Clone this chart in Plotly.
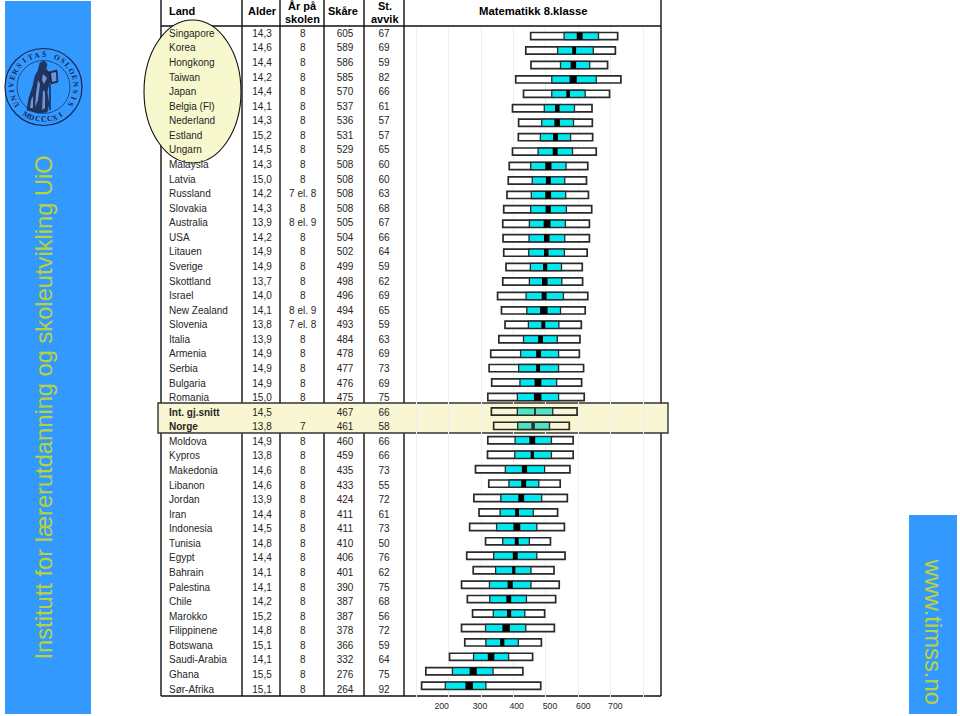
import math
import plotly.graph_objects as go

lands = ["Singapore","Korea","Hongkong","Taiwan","Japan","Belgia (Fl)","Nederland","Estland","Ungarn","Malaysia","Latvia","Russland","Slovakia","Australia","USA","Litauen","Sverige","Skottland","Israel","New Zealand","Slovenia","Italia","Armenia","Serbia","Bulgaria","Romania","Int. gj.snitt","Norge","Moldova","Kypros","Makedonia","Libanon","Jordan","Iran","Indonesia","Tunisia","Egypt","Bahrain","Palestina","Chile","Marokko","Filippinene","Botswana","Saudi-Arabia","Ghana","Sør-Afrika"]
alder = ["14,3","14,6","14,4","14,2","14,4","14,1","14,3","15,2","14,5","14,3","15,0","14,2","14,3","13,9","14,2","14,9","14,9","13,7","14,0","14,1","13,8","13,9","14,9","14,9","14,9","15,0","14,5","13,8","14,9","13,8","14,6","14,6","13,9","14,4","14,5","14,8","14,4","14,1","14,1","14,2","15,2","14,8","15,1","14,1","15,5","15,1"]
aar = ["8","8","8","8","8","8","8","8","8","8","8","7 el. 8","8","8 el. 9","8","8","8","8","8","8 el. 9","7 el. 8","8","8","8","8","8","","7","8","8","8","8","8","8","8","8","8","8","8","8","8","8","8","8","8","8"]
skaare = [605,589,586,585,570,537,536,531,529,508,508,508,508,505,504,502,499,498,496,494,493,484,478,477,476,475,467,461,460,459,435,433,424,411,411,410,406,401,390,387,387,378,366,332,276,264]
avvik = [67,69,59,82,66,61,57,57,65,60,60,63,68,67,66,64,59,62,69,65,59,63,69,73,69,75,66,58,66,66,73,55,72,61,73,50,76,62,75,68,56,72,59,64,75,92]

p5 = [453,438,454,407,431,397,416,415,397,387,384,380,370,367,368,370,377,367,351,363,374,355,330,325,333,321,332,339,321,320,283,324,278,294,265,314,256,276,240,258,274,240,250,203,130,117]
p25 = [556,536,545,518,518,495,487,483,476,453,458,455,453,449,448,447,452,449,439,441,446,431,422,416,420,412,412,413,405,404,375,386,361,359,348,367,339,345,326,327,338,314,315,277,212,190]
ci_lo = [595,581,576,573,563,528,526,522,521,498,500,498,499,493,494,494,491,488,487,482,486,476,470,470,465,463,465,455,449,453,426,424,415,405,400,404,398,396,382,378,380,366,359,321,265,252]
ci_hi = [613,593,593,595,574,542,543,537,536,517,515,516,515,514,511,508,504,505,502,505,498,491,485,482,486,486,467,466,467,463,442,439,433,417,421,416,413,406,398,393,393,389,372,341,287,275]
p75 = [662,646,635,655,621,588,585,576,582,562,558,561,563,560,558,557,548,549,554,545,540,535,539,539,533,539,521,511,517,517,496,478,487,461,472,449,472,454,454,440,435,438,415,385,337,315]
p95 = [721,714,690,731,696,642,643,644,655,629,625,631,641,634,634,627,612,613,629,621,609,605,603,616,610,618,596,572,584,584,574,544,566,536,557,514,559,525,541,530,496,526,486,459,429,484]

grid_vals = [100,200,300,400,500,600,700,800]
tick_labels = ["200","300","400","500","600","700"]
tick_pos = [441.7,480,516.7,550,583.3,615.3]

W, H = 960, 716
highlight = {"Int. gj.snitt", "Norge"}
NAVY = "#18264F"
BLUE = "#3399FF"
LIME = "#B9D23A"
INK = "#262626"

def px(x): return x / W
def py(y): return 1 - y / H

T, B = 27, 697
L, R = 161, 661
K = 0.3246
def score(xp): return 605 + (xp - 580) / K
def paper_path(points, close=True):
    s = "M" + " L".join(f"{px(a):.5f},{py(b):.5f}" for a, b in points)
    return s + (" Z" if close else "")

white = ["#F8F5D2" if n in highlight else "#FFFFFF" for n in lands]
cyan = ["#4FE3C4" if n in highlight else "#00E8F0" for n in lands]
black = ["#333326" if n in highlight else "#000000" for n in lands]
edge = "#2A2A2A"

fig = go.Figure()
BW = 0.5
fig.add_bar(y=lands, x=[b - a for a, b in zip(p5, p95)], base=p5, orientation="h", width=BW,
            marker=dict(color=white, line=dict(color=edge, width=1.7)), xaxis="x", yaxis="y", hoverinfo="skip")
fig.add_bar(y=lands, x=[b - a for a, b in zip(p25, p75)], base=p25, orientation="h", width=BW,
            marker=dict(color=cyan, line=dict(color=edge, width=1.3)), xaxis="x", yaxis="y", hoverinfo="skip")
fig.add_bar(y=lands, x=[b - a for a, b in zip(ci_lo, ci_hi)], base=ci_lo, orientation="h", width=BW,
            marker=dict(color=black, line=dict(width=0)), xaxis="x", yaxis="y", hoverinfo="skip")

cols = [
    (169, "middle right", [f"<b>{n}</b>" if n in highlight else n for n in lands]),
    (262, "middle center", alder),
    (302.7, "middle center", aar),
    (345, "middle center", [str(v) for v in skaare]),
    (384, "middle center", [str(v) for v in avvik]),
]
for xp, pos, txt in cols:
    fig.add_scatter(x=[xp] * len(lands), y=lands, text=txt, mode="text", textposition=pos,
                    textfont=dict(family="Liberation Sans", size=10, color=INK), cliponaxis=False,
                    xaxis="x2", yaxis="y2", hoverinfo="skip", showlegend=False)

shapes = []
def rect(x0, y0, x1, y1, fill, line=None, lw=0, layer="below"):
    shapes.append(dict(type="rect", xref="paper", yref="paper", x0=px(x0), x1=px(x1), y0=py(y0), y1=py(y1),
                       fillcolor=fill, line=dict(color=line or fill, width=lw), layer=layer))
def seg(x0, y0, x1, y1, w=1.4, c="#111111"):
    shapes.append(dict(type="line", xref="paper", yref="paper", x0=px(x0), x1=px(x1), y0=py(y0), y1=py(y1),
                       line=dict(color=c, width=w), layer="below"))

rect(5, 1, 91, 714, BLUE)
rect(909, 515, 957, 714, BLUE)
for xv in (161, 242, 280, 324, 364, 404, 661):
    seg(xv, 0, xv, 696)
seg(161, 26, 661, 26)
seg(161, 696, 661, 696)
rect(158, 403, 668, 433, "#F9F6D3", "#333333", 1.4)
shapes.append(dict(type="circle", xref="paper", yref="paper", x0=px(144), x1=px(241), y0=py(20), y1=py(163),
                   fillcolor="#F8F8CE", line=dict(color="#111111", width=1.1), layer="below"))

# university seal
cx, cy = 43.5, 87
for r, w in ((38.5, 1.2), (26.5, 0.7)):
    shapes.append(dict(type="circle", xref="paper", yref="paper", x0=px(cx - r), x1=px(cx + r), y0=py(cy - r), y1=py(cy + r),
                       line=dict(color=NAVY, width=w), fillcolor="rgba(0,0,0,0)", layer="below"))
robe = [(40,63),(44,61),(47,64),(46,69),(50,73),(52,80),(49,84),(47,92),(49,104),(47,112),(38,113),(27,110),(29,98),(33,86),(35,76),(38,71)]
book = [(49,72),(57,70),(58,82),(51,84)]
for poly, col in ((robe, "#20345F"), (book, NAVY)):
    shapes.append(dict(type="path", xref="paper", yref="paper", path=paper_path(poly), fillcolor=col,
                       line=dict(color=NAVY, width=0.6), layer="below"))
for poly in ([(51,73),(56,72),(56.5,81),(52,82)], [(38,80),(40,84),(38,100),(35,107),(36,94)],
             [(43,74),(47,78),(44,84),(42,80)], [(31,100),(33,96),(33,108),(30,108)], [(43,90),(45,92),(45,108),(42,110)]):
    shapes.append(dict(type="path", xref="paper", yref="paper", path=paper_path(poly), fillcolor="#6F95D2",
                       line=dict(width=0), layer="below"))
shapes.append(dict(type="line", xref="paper", yref="paper", x0=px(50), x1=px(50), y0=py(84), y1=py(110),
                   line=dict(color=NAVY, width=1.5), layer="below"))

anns = []
def seal_text(text, a0, a1, bottom=False):
    n = len(text)
    for i, ch in enumerate(text):
        a = a0 + (a1 - a0) * i / (n - 1)
        xp = cx + 32.5 * math.sin(math.radians(a))
        yp = cy - 32.5 * math.cos(math.radians(a))
        ang = a - 180 if bottom else a
        anns.append(dict(text=f"<b>{ch}</b>", x=px(xp), y=py(yp), xref="paper", yref="paper", showarrow=False, textangle=ang,
                         xanchor="center", yanchor="middle", font=dict(family="Liberation Serif", size=7.5, color=NAVY)))
seal_text("UNIVERSITAS OSLOENSIS", -122, 122)
seal_text("MDCCCXI", 212, 148, bottom=True)

def ann(text, xp, yp, size, color=INK, angle=0, bold_=False):
    anns.append(dict(text=f"<b>{text}</b>" if bold_ else text, x=px(xp), y=py(yp), xref="paper", yref="paper",
                     showarrow=False, textangle=angle, xanchor="center", yanchor="middle",
                     font=dict(family="Liberation Sans", size=size, color=color)))

ann("Institutt for lærerutdanning og skoleutvikling UiO", 44, 407.5, 23.7, LIME, -90)
ann("www.timss.no", 933, 631.5, 23.8, LIME, 90)
ann("Land", 182, 10.5, 11, "#000000", bold_=True)
ann("Alder", 262, 10.5, 11, "#000000", bold_=True)
ann("År på", 302.5, 6, 11, "#000000", bold_=True)
ann("skolen", 302.5, 18.5, 11, "#000000", bold_=True)
ann("Skåre", 342.5, 10.5, 11, "#000000", bold_=True)
ann("St.", 385, 6, 11, "#000000", bold_=True)
ann("avvik", 385, 18.5, 11, "#000000", bold_=True)
ann("Matematikk 8.klasse", 533, 10.5, 11.3, "#000000", bold_=True)

bar_top, bar_step = 36.1, 14.436
txt_top, txt_step = 34.4, 14.57
fig.update_layout(
    width=W, height=H, margin=dict(l=0, r=0, t=0, b=0), showlegend=False, barmode="overlay",
    paper_bgcolor="#FFFFFF", plot_bgcolor="rgba(0,0,0,0)", shapes=shapes, annotations=anns,
    xaxis=dict(domain=[px(L), px(R)], range=[score(L), score(R)], tickmode="array", tickvals=grid_vals,
               showticklabels=False, ticks="", showgrid=True, gridcolor="#EFEFEF", gridwidth=1, zeroline=False,
               showline=False, anchor="y", fixedrange=True),
    yaxis=dict(domain=[py(B), py(T)], type="category", categoryorder="array", categoryarray=lands,
               range=[(B - bar_top) / bar_step, (T - bar_top) / bar_step], showticklabels=False, showgrid=False,
               zeroline=False, showline=False, ticks="", anchor="x", fixedrange=True),
    xaxis2=dict(domain=[0, 1], range=[0, W], tickmode="array", tickvals=tick_pos, ticktext=tick_labels,
                tickfont=dict(family="Liberation Sans", size=8.7, color=INK), ticks="outside", ticklen=1,
                tickcolor="rgba(0,0,0,0)", showgrid=False, zeroline=False, showline=False, anchor="y2", fixedrange=True),
    yaxis2=dict(domain=[py(B), py(T)], type="category", categoryorder="array", categoryarray=lands,
                range=[(B - txt_top) / txt_step, (T - txt_top) / txt_step], showticklabels=False, showgrid=False,
                zeroline=False, showline=False, ticks="", anchor="x2", fixedrange=True),
)
fig.write_html("out.html", config={"displayModeBar": False},
               post_script="document.body.style.margin='0';")
